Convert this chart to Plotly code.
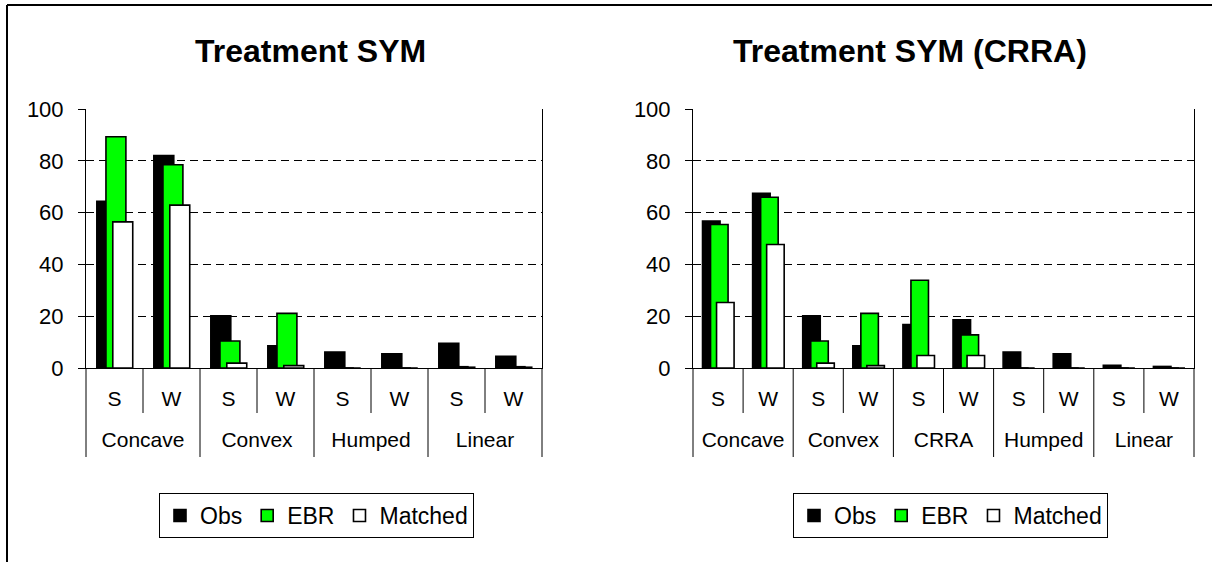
import plotly.graph_objects as go

# --- data -----------------------------------------------------------------
sym_groups = ["Concave", "Convex", "Humped", "Linear"]
crra_groups = ["Concave", "Convex", "CRRA", "Humped", "Linear"]
subjects = ["S", "W"]

sym_obs = [64.4, 82.0, 20.2, 8.6, 6.2, 5.5, 9.5, 4.5]
sym_ebr = [89.3, 78.5, 10.4, 21.1, 0, 0, 0.5, 0.5]
sym_matched = [56.4, 62.9, 1.9, 0.9, 0, 0, 0.3, 0.3]

crra_obs = [56.7, 67.5, 20.2, 8.6, 16.8, 18.6, 6.2, 5.5, 1.0, 0.6]
crra_ebr = [55.4, 65.9, 10.4, 21.1, 33.9, 12.8, 0, 0, 0, 0]
crra_matched = [25.3, 47.7, 1.9, 0.9, 4.8, 4.8, 0, 0, 0, 0]

series_names = ["Obs", "EBR", "Matched"]
series_colors = ["#000000", "#00ff00", "#ffffff"]

W, H = 1212, 562
FONT = "Liberation Sans, Arial, sans-serif"


def multicat(groups):
    # outer labels get a blank first line so they sit lower, as in the original
    outer = ["<br>" + g for g in groups for _ in subjects]
    inner = [s for _ in groups for s in subjects]
    return [outer, inner]


fig = go.Figure()

panels = [
    ("x", "y", "legend", sym_groups, [sym_obs, sym_ebr, sym_matched]),
    ("x2", "y2", "legend2", crra_groups, [crra_obs, crra_ebr, crra_matched]),
]

bar_width = 0.35
bar_offsets = [-0.31, -0.15, -0.03]

for xa, ya, leg, groups, values in panels:
    x = multicat(groups)
    for name, color, vals, off in zip(series_names, series_colors, values, bar_offsets):
        fig.add_trace(
            go.Bar(
                x=x,
                y=vals,
                name=name,
                xaxis=xa,
                yaxis=ya,
                legend=leg,
                width=bar_width,
                offset=off,
                marker=dict(color=color, line=dict(color="#000000", width=1.6)),
            )
        )

# plot areas in pixels (left, right, top, bottom)
px_left = (86, 542)
px_right = (693, 1194)
px_top, px_bottom = 109, 368

ydom = [1 - px_bottom / H, 1 - px_top / H]

axis_common = dict(
    type="multicategory",
    showline=True,
    linecolor="#000000",
    linewidth=1,
    ticks="",
    showdividers=False,
    showgrid=False,
    automargin=False,
    tickfont=dict(family=FONT, size=21, color="#000000"),
    ticklabelstandoff=12,
)
yaxis_common = dict(
    range=[0, 100],
    dtick=20,
    showline=True,
    mirror=True,
    linecolor="#000000",
    linewidth=1,
    ticks="outside",
    ticklen=7,
    tickcolor="#000000",
    showgrid=True,
    gridcolor="#000000",
    gridwidth=1,
    griddash="8px,5px",
    zeroline=False,
    automargin=False,
    tickfont=dict(family=FONT, size=22, color="#000000"),
    ticklabelstandoff=10,
)

legend_common = dict(
    orientation="h",
    xanchor="left",
    y=1 - 493 / H,
    yanchor="top",
    bordercolor="#000000",
    borderwidth=1,
    font=dict(family=FONT, size=23),
    itemclick=False,
    tracegroupgap=0,
)

fig.update_layout(
    width=W,
    height=H,
    margin=dict(l=0, r=0, t=0, b=0, autoexpand=False),
    paper_bgcolor="#ffffff",
    plot_bgcolor="#ffffff",
    barmode="overlay",
    font=dict(family=FONT, color="#000000"),
    xaxis=dict(domain=[px_left[0] / W, px_left[1] / W], anchor="y", **axis_common),
    yaxis=dict(domain=ydom, anchor="x", **yaxis_common),
    xaxis2=dict(domain=[px_right[0] / W, px_right[1] / W], anchor="y2", **axis_common),
    yaxis2=dict(domain=ydom, anchor="x2", **yaxis_common),
    legend=dict(x=159 / W, **legend_common),
    legend2=dict(x=793 / W, **legend_common),
    showlegend=True,
)

# titles
for text, cx in [("Treatment SYM", 310), ("Treatment SYM (CRRA)", 910)]:
    fig.add_annotation(
        text="<b>" + text + "</b>",
        x=cx / W,
        y=1 - 51 / H,
        xref="paper",
        yref="paper",
        xanchor="center",
        yanchor="middle",
        showarrow=False,
        font=dict(family=FONT, size=32, color="#000000"),
    )

# category separators below the x axes (short between S/W, long between groups)
short_drop = 45 / H
long_drop = 89 / H
base = 1 - px_bottom / H
for (l, r), groups in [(px_left, sym_groups), (px_right, crra_groups)]:
    n = len(groups) * len(subjects)
    for i in range(n + 1):
        xp = (l + (r - l) * i / n) / W
        drop = long_drop if i % len(subjects) == 0 else short_drop
        fig.add_shape(
            type="line",
            xref="paper",
            yref="paper",
            x0=xp,
            x1=xp,
            y0=base,
            y1=base - drop,
            line=dict(color="#000000", width=1),
        )

# outer frame (top and left edges visible in the original)
fig.add_shape(type="line", xref="paper", yref="paper", x0=7 / W, x1=1, y0=1 - 5 / H, y1=1 - 5 / H,
              line=dict(color="#000000", width=2))
fig.add_shape(type="line", xref="paper", yref="paper", x0=7 / W, x1=7 / W, y0=1 - 5 / H, y1=0,
              line=dict(color="#000000", width=2))

# page has a default body margin; drop it so the figure fills the window exactly
fig.write_html(
    "out.html",
    config={"displayModeBar": False},
    post_script="document.body.style.margin='0';",
)
